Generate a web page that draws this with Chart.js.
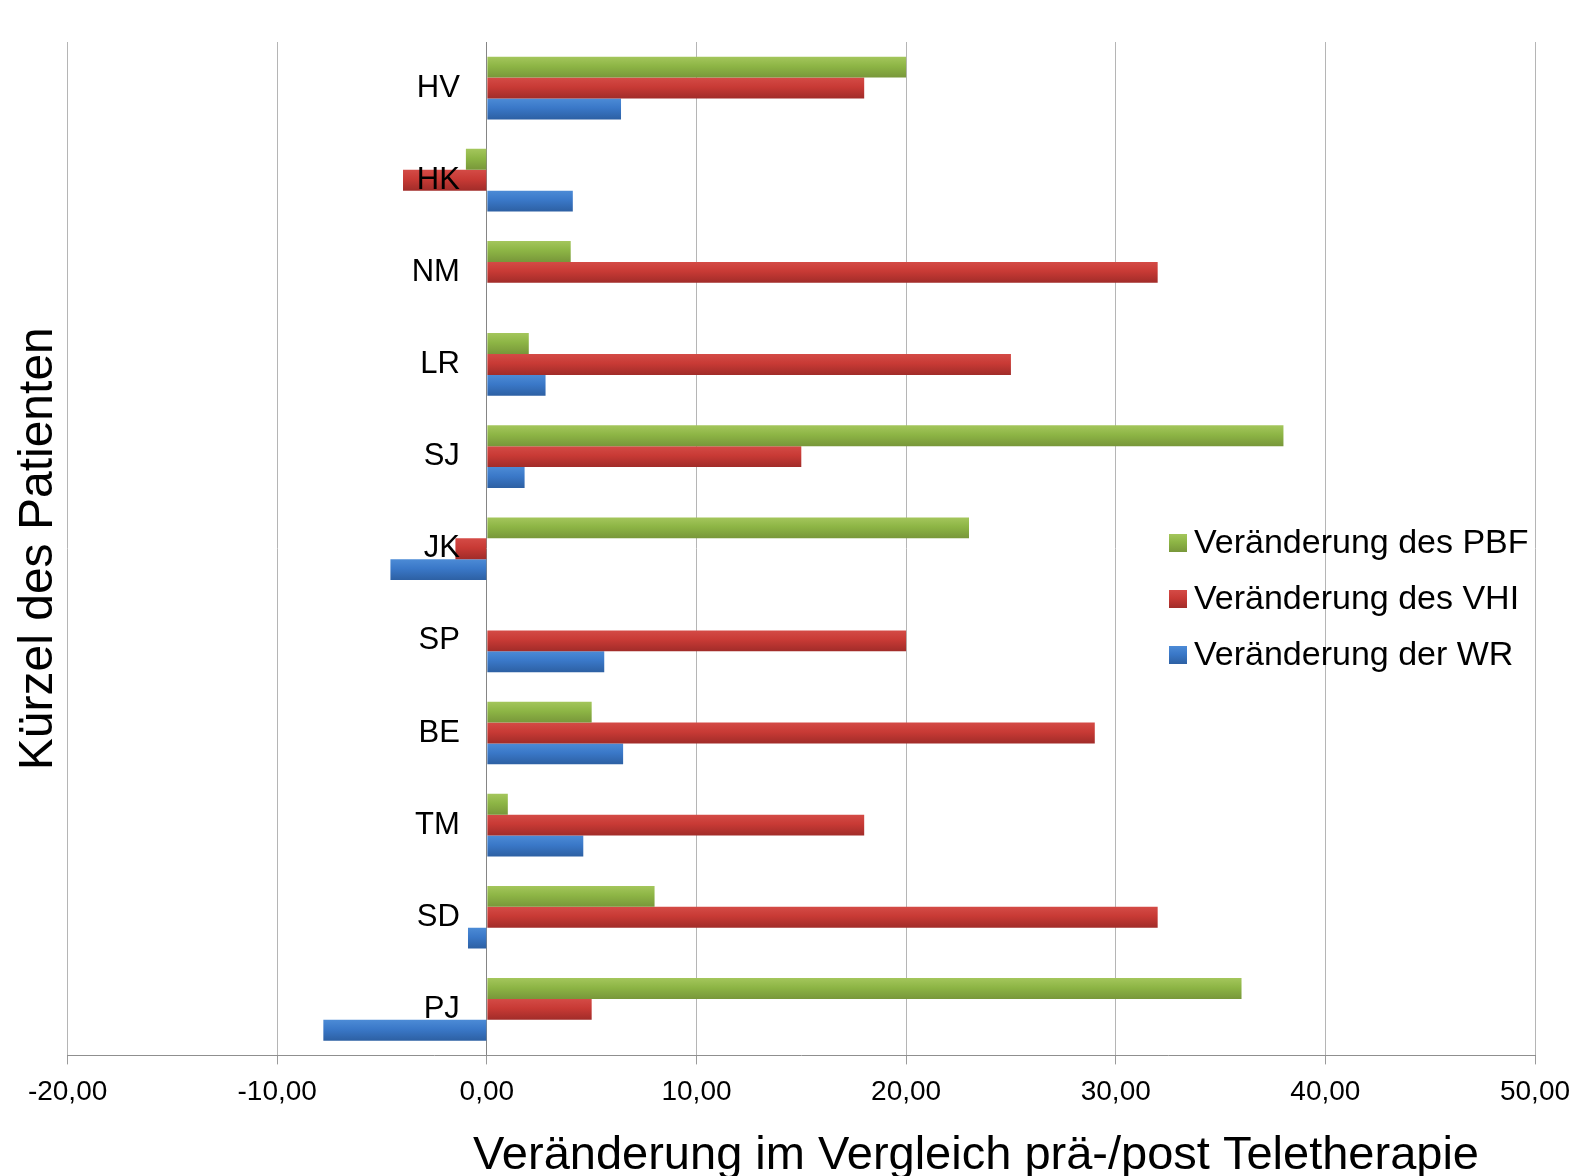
<!DOCTYPE html>
<html lang="de">
<head>
<meta charset="utf-8">
<title>Veränderung prä-/post Teletherapie</title>
<script src="https://cdn.jsdelivr.net/npm/chart.js@4.4.1/dist/chart.umd.min.js"></script>
<style>
  html, body { margin: 0; padding: 0; background: #fff; }
  #chart { display: block; }
</style>
</head>
<body>
<canvas id="chart" width="1572" height="1176"></canvas>
<script>
// Patienten von oben nach unten
const patients = ['HV', 'HK', 'NM', 'LR', 'SJ', 'JK', 'SP', 'BE', 'TM', 'SD', 'PJ'];

// Veränderungen prä/post
const pbfChange = [20, -1, 4, 2, 38, 23, 0, 5, 1, 8, 36];
const vhiChange = [18, -4, 32, 25, 15, -1.5, 20, 29, 18, 32, 5];
const wrChange = [6.4, 4.1, 0, 2.8, 1.8, -4.6, 5.6, 6.5, 4.6, -0.9, -7.8];

const xTicks = [-20, -10, 0, 10, 20, 30, 40, 50];

const seriesLabels = ['Veränderung des PBF', 'Veränderung des VHI', 'Veränderung der WR'];
// top / middle / bottom shade of each bar
const seriesShades = [
    ['#a4c65c', '#8db545', '#78973a'],
    ['#d44b46', '#c83a35', '#a12c29'],
    ['#4c8bd6', '#3a78c8', '#2d60a3']
];

const xTitle = 'Veränderung im Vergleich prä-/post Teletherapie';
const yTitle = 'Kürzel des Patienten';

const FONT = '"Liberation Sans", Arial, Helvetica, sans-serif';
Chart.defaults.font.family = FONT;
Chart.defaults.color = '#000';

function formatDe(v) {
    return v.toFixed(2).replace('.', ',');
}

function shadeGradient(ctx, top, bottom, shades) {
    let g = ctx.createLinearGradient(0, top, 0, bottom);
    g.addColorStop(0, shades[0]);
    g.addColorStop(0.45, shades[1]);
    g.addColorStop(1, shades[2]);
    return g;
}

// give every bar its own vertical gradient once the layout is known
const barShading = {
    id: 'barShading',
    beforeDatasetsDraw(chart) {
        chart.data.datasets.forEach((ds, i) => {
            chart.getDatasetMeta(i).data.forEach(bar => {
                let p = bar.getProps(['y', 'height'], true);
                bar.options.backgroundColor = shadeGradient(chart.ctx, p.y - p.height / 2, p.y + p.height / 2, seriesShades[i]);
            });
        });
    }
};

// patient codes sit left of the zero line, on top of the bars
const patientLabels = {
    id: 'patientLabels',
    afterDatasetsDraw(chart) {
        let ctx = chart.ctx;
        let zero = chart.scales.x.getPixelForValue(0);
        ctx.save();
        ctx.font = '31px ' + FONT;
        ctx.fillStyle = '#000';
        ctx.textAlign = 'right';
        ctx.textBaseline = 'middle';
        patients.forEach((name, i) => {
            ctx.fillText(name, zero - 27, chart.scales.y.getPixelForValue(i));
        });
        ctx.restore();
    }
};

// legend inside the plot area and the x axis title
const extras = {
    id: 'extras',
    afterDraw(chart) {
        let ctx = chart.ctx;
        let area = chart.chartArea;
        ctx.save();

        ctx.font = '34px ' + FONT;
        ctx.textAlign = 'left';
        ctx.textBaseline = 'middle';
        let lx = area.right - 366;
        let ly = area.top + 501;
        seriesLabels.forEach((label, i) => {
            let cy = ly + i * 56;
            ctx.fillStyle = shadeGradient(ctx, cy - 9, cy + 9, seriesShades[i]);
            ctx.fillRect(lx, cy - 9, 18, 18);
            ctx.fillStyle = '#000';
            ctx.fillText(label, lx + 25, cy + 1);
        });

        ctx.font = '47px ' + FONT;
        ctx.textAlign = 'right';
        ctx.textBaseline = 'alphabetic';
        ctx.fillText(xTitle, area.right - 56, area.bottom + 114);
        ctx.restore();
    }
};

const values = [pbfChange, vhiChange, wrChange];

new Chart(document.getElementById('chart'), {
    type: 'bar',
    data: {
        labels: patients,
        datasets: values.map((v, i) => ({
            label: seriesLabels[i],
            data: v,
            backgroundColor: () => seriesShades[i][1],
            borderWidth: 0,
            categoryPercentage: 0.68,
            barPercentage: 1
        }))
    },
    options: {
        indexAxis: 'y',
        responsive: false,
        animation: false,
        events: [],
        devicePixelRatio: 1,
        layout: { padding: { top: 42, bottom: 56, left: 0, right: 0 } },
        plugins: {
            legend: { display: false },
            tooltip: { enabled: false }
        },
        scales: {
            x: {
                min: -20,
                max: 50,
                afterBuildTicks: scale => { scale.ticks = xTicks.map(v => ({ value: v })); },
                // the last tick label may run to the canvas edge
                afterFit: scale => { scale.paddingRight = 37; },
                grid: {
                    color: c => (c.tick && c.tick.value === 0) ? '#858585' : '#b5b5b5',
                    tickColor: '#9a9a9a',
                    tickLength: 9,
                    lineWidth: 1
                },
                border: { color: '#8f8f8f' },
                ticks: {
                    padding: 11,
                    font: { size: 28 },
                    color: '#000',
                    callback: v => formatDe(v),
                    maxRotation: 0
                }
            },
            y: {
                grid: { display: false, drawTicks: false },
                border: { display: false },
                ticks: { display: false },
                title: {
                    display: true,
                    text: yTitle,
                    font: { size: 48 },
                    color: '#000',
                    padding: { top: 10, bottom: 0 }
                }
            }
        }
    },
    plugins: [barShading, patientLabels, extras]
});
</script>
</body>
</html>
